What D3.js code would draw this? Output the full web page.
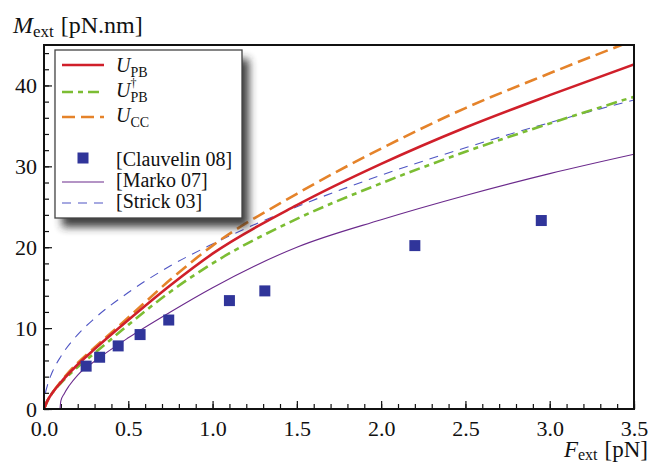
<!DOCTYPE html>
<html>
<head>
<meta charset="utf-8">
<script src="https://cdn.jsdelivr.net/npm/d3@7"></script>
<style>
  body { margin: 0; background: #fff; }
  text { font-family: "Liberation Serif", "DejaVu Serif", serif; fill: #111; }
</style>
</head>
<body>
<div id="chart"></div>
<script>
// values
const forceUPB  = [0, 0.02, 0.05, 0.1, 0.2, 0.3, 0.5, 0.75, 1.0, 1.5, 2.0, 2.5, 3.0, 3.5];
const torqueUPB = [0, 1.0, 2.0, 3.3, 5.5, 7.4, 11.0, 15.3, 19.2, 25.2, 30.3, 34.8, 38.8, 42.6];

const forceUPBdag  = [0, 0.02, 0.05, 0.1, 0.2, 0.3, 0.5, 0.75, 1.0, 1.5, 2.0, 2.5, 3.0, 3.5];
const torqueUPBdag = [0, 1.0, 2.0, 3.2, 5.2, 6.9, 10.4, 14.5, 18.0, 23.5, 27.9, 31.8, 35.3, 38.6];

const forceUCC  = [0, 0.02, 0.05, 0.1, 0.2, 0.3, 0.5, 0.75, 1.0, 1.5, 2.0, 2.5, 3.0, 3.5];
const torqueUCC = [0, 1.0, 2.0, 3.4, 5.7, 7.6, 11.3, 16.0, 20.2, 26.6, 32.2, 37.2, 41.5, 45.6];

const forceClauvelin  = [0.25, 0.33, 0.44, 0.57, 0.74, 1.10, 1.31, 2.20, 2.95];
const torqueClauvelin = [5.3, 6.4, 7.8, 9.2, 11.0, 13.4, 14.6, 20.2, 23.3];

const forceMarko  = [0.095, 0.1, 0.12, 0.15, 0.2, 0.3, 0.5, 0.75, 1.0, 1.5, 2.0, 2.5, 3.0, 3.5];
const torqueMarko = [0, 1.0, 1.9, 2.9, 4.2, 5.9, 8.8, 12.0, 15.0, 20.0, 23.4, 26.4, 29.1, 31.5];

const forceStrick  = [0, 0.005, 0.02, 0.05, 0.1, 0.2, 0.3, 0.5, 0.75, 1.0, 1.5, 2.0, 2.5, 3.0, 3.5];
const torqueStrick = [0, 1.4, 2.9, 4.6, 6.5, 9.2, 11.2, 14.4, 17.7, 20.4, 25.0, 28.9, 32.3, 35.4, 38.2];

const xMajorTicks = [0, 0.5, 1.0, 1.5, 2.0, 2.5, 3.0, 3.5];
const xMinorTicks = d3.range(0, 35.01, 1).map(d => d / 10);
const yMajorTicks = [0, 10, 20, 30, 40];
const yMinorTicks = d3.range(0, 45, 2);

const W = 667, H = 464;
const x = d3.scaleLinear().domain([0, 3.5]).range([44, 634]);
const y = d3.scaleLinear().domain([0, 45]).range([409, 45]);

const svg = d3.select("#chart").append("svg")
    .attr("width", W)
    .attr("height", H);

const defs = svg.append("defs");
defs.append("clipPath").attr("id", "plot-clip")
  .append("rect")
    .attr("x", x(0)).attr("y", y(45))
    .attr("width", x(3.5) - x(0)).attr("height", y(0) - y(45));
defs.append("filter").attr("id", "shadow")
    .attr("x", "-20%").attr("y", "-20%").attr("width", "150%").attr("height", "150%")
  .append("feGaussianBlur").attr("stdDeviation", 4.5);

// axes: ticks point inward
function styleAxis(g) {
    g.select(".domain").remove();
    g.selectAll(".tick line").attr("stroke", "#111").attr("stroke-width", 1.2);
    g.selectAll(".tick text").style("font-size", "22px").attr("fill", "#111");
}

svg.append("g")
    .attr("transform", `translate(0,${y(0)})`)
    .call(d3.axisBottom(x).tickValues(xMinorTicks).tickSize(-5).tickFormat(""))
    .call(styleAxis);
svg.append("g")
    .attr("transform", `translate(0,${y(0)})`)
    .call(d3.axisBottom(x).tickValues(xMajorTicks).tickSize(-8).tickPadding(11).tickFormat(d3.format(".1f")))
    .call(styleAxis);

svg.append("g")
    .attr("transform", `translate(${x(0)},0)`)
    .call(d3.axisLeft(y).tickValues(yMinorTicks).tickSize(-5).tickFormat(""))
    .call(styleAxis);
svg.append("g")
    .attr("transform", `translate(${x(0)},0)`)
    .call(d3.axisLeft(y).tickValues(yMajorTicks).tickSize(-8).tickPadding(7))
    .call(styleAxis);

// curves
const line = d3.line()
    .x(d => x(d[0]))
    .y(d => y(d[1]))
    .curve(d3.curveMonotoneX);

const plot = svg.append("g").attr("clip-path", "url(#plot-clip)");

const curves = [
    { f: forceStrick, m: torqueStrick, color: "#4f55c4", width: 1.1, dash: "9,7" },
    { f: forceMarko, m: torqueMarko, color: "#6b2a8c", width: 1.1, dash: null },
    { f: forceUPBdag, m: torqueUPBdag, color: "#7cbd33", width: 2.6, dash: "11,5,5,5" },
    { f: forceUCC, m: torqueUCC, color: "#e5832a", width: 2.6, dash: "13,6" },
    { f: forceUPB, m: torqueUPB, color: "#d01f2a", width: 2.6, dash: null }
];

curves.forEach(c => {
    plot.append("path")
        .datum(d3.zip(c.f, c.m))
        .attr("fill", "none")
        .attr("stroke", c.color)
        .attr("stroke-width", c.width)
        .attr("stroke-dasharray", c.dash);
});
plot.selectAll("path").attr("d", line);

const sq = 11;
plot.selectAll("rect.clauvelin")
    .data(d3.zip(forceClauvelin, torqueClauvelin))
    .join("rect")
    .attr("class", "clauvelin")
    .attr("x", d => x(d[0]) - sq / 2)
    .attr("y", d => y(d[1]) - sq / 2)
    .attr("width", sq)
    .attr("height", sq)
    .attr("fill", "#30359a");

// frame
svg.append("rect")
    .attr("x", x(0)).attr("y", y(45))
    .attr("width", x(3.5) - x(0)).attr("height", y(0) - y(45))
    .attr("fill", "none")
    .attr("stroke", "#111")
    .attr("stroke-width", 2);

// axis titles
const yTitle = svg.append("text").attr("x", 13).attr("y", 33).style("font-size", "24px");
yTitle.append("tspan").attr("font-style", "italic").text("M");
yTitle.append("tspan").attr("dy", 4).style("font-size", "17px").text("ext");
yTitle.append("tspan").attr("dy", -4).attr("dx", 7).text("[pN.nm]");

const xTitle = svg.append("text").attr("x", 648).attr("y", 457)
    .attr("text-anchor", "end").style("font-size", "23px");
xTitle.append("tspan").attr("font-style", "italic").text("F");
xTitle.append("tspan").attr("dy", 3).style("font-size", "16px").text("ext");
xTitle.append("tspan").attr("dy", -3).attr("dx", 7).text("[pN]");

// legend
const lg = { x: 55, y: 50, w: 187, h: 168 };
svg.append("rect")
    .attr("x", lg.x + 7).attr("y", lg.y + 9)
    .attr("width", lg.w).attr("height", lg.h)
    .attr("fill", "#2a2a2a")
    .attr("opacity", 0.9)
    .attr("filter", "url(#shadow)");
svg.append("rect")
    .attr("x", lg.x).attr("y", lg.y)
    .attr("width", lg.w).attr("height", lg.h)
    .attr("fill", "#fff")
    .attr("stroke", "#444")
    .attr("stroke-width", 1.3);

const legendItems = [
    { curve: curves[4], y: 65, base: 72, main: "U", sub: "PB", sup: null },
    { curve: curves[2], y: 92, base: 97, main: "U", sub: "PB", sup: "\u2020" },
    { curve: curves[3], y: 117, base: 122, main: "U", sub: "CC", sup: null },
    { curve: null, y: 158, base: 166, main: "[Clauvelin 08]" },
    { curve: curves[1], y: 182, base: 187, main: "[Marko 07]" },
    { curve: curves[0], y: 203, base: 208, main: "[Strick 03]" }
];

legendItems.forEach(it => {
    if (it.curve) {
        svg.append("line")
            .attr("x1", 62).attr("x2", 104)
            .attr("y1", it.y).attr("y2", it.y)
            .attr("stroke", it.curve.color)
            .attr("stroke-width", it.curve.width)
            .attr("stroke-dasharray", it.curve.dash);
    } else {
        svg.append("rect")
            .attr("x", 83 - sq / 2).attr("y", it.y - sq / 2)
            .attr("width", sq).attr("height", sq)
            .attr("fill", "#30359a");
    }
    const t = svg.append("text").attr("x", 116).attr("y", it.base).style("font-size", "20px");
    if (it.sub) {
        t.append("tspan").attr("font-style", "italic").text(it.main);
        if (it.sup) {
            t.append("tspan").attr("dy", -10).style("font-size", "12px").text(it.sup);
            t.append("tspan").attr("dx", -6).attr("dy", 15).style("font-size", "14px").text(it.sub);
        } else {
            t.append("tspan").attr("dy", 5).style("font-size", "14px").text(it.sub);
        }
    } else {
        t.text(it.main);
    }
});
</script>
</body>
</html>
